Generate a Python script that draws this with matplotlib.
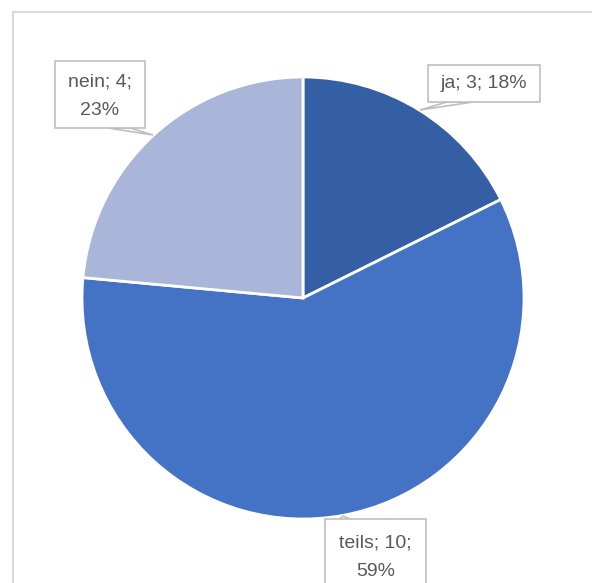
import matplotlib
matplotlib.use('Agg')
import matplotlib.pyplot as plt
from matplotlib.patches import Rectangle, Polygon

# survey answers
labels = ['ja', 'teils', 'nein']
counts = [3, 10, 4]
percents = ['18%', '59%', '23%']
colors = ['#355FA4', '#4472C4', '#A9B6DA']

W, H = 592, 583
fig = plt.figure(figsize=(W / 100, H / 100), dpi=100)
ax = fig.add_axes([0, 0, 1, 1])

# chart frame (cut off on the right and bottom)
ax.plot([12.5, 12.5, W + 5], [-5, H - 11.5, H - 11.5], color='#D9D9D9', lw=1.5, clip_on=False)

cx, cy, r = 303, H - 298, 221
ax.pie(counts, colors=colors, startangle=90, counterclock=False,
       center=(cx, cy), radius=r, frame=True,
       wedgeprops=dict(edgecolor='white', linewidth=2))
ax.set_xlim(0, W)
ax.set_ylim(0, H)
ax.set_aspect('equal')
ax.axis('off')

# callout boxes: (left, top, right, bottom) in pixels, pointer base and tip
boxes = {
    'ja': ((428, 65, 540, 102), ((447, 102), (473, 102), (420, 110))),
    'teils': ((325, 519, 426, 600), ((340, 519), (350, 519), (343, 516))),
    'nein': ((55, 61, 145, 128), ((108, 128), (130, 128), (153, 135))),
}
texts = {
    'ja': '{}; {}; {}',
    'teils': '{}; {};\n{}',
    'nein': '{}; {};\n{}',
}
centers = {'ja': 84, 'teils': 557, 'nein': 96}
for lab, n, p in zip(labels, counts, percents):
    (x0, t, x1, b), tri = boxes[lab]
    ax.add_patch(Polygon([(x, H - y) for x, y in tri], closed=True,
                         facecolor='white', edgecolor='#BFBFBF', lw=1.2, zorder=3))
    ax.add_patch(Rectangle((x0, H - b), x1 - x0, b - t, facecolor='white',
                           edgecolor='#BFBFBF', lw=1.2, zorder=4, clip_on=False))
    ax.text((x0 + x1) / 2, H - centers[lab], texts[lab].format(lab, n, p),
            ha='center', va='center', fontsize=14, color='#595959',
            family='Liberation Sans', linespacing=1.85, zorder=5)

plt.savefig('out.png', dpi=100)
